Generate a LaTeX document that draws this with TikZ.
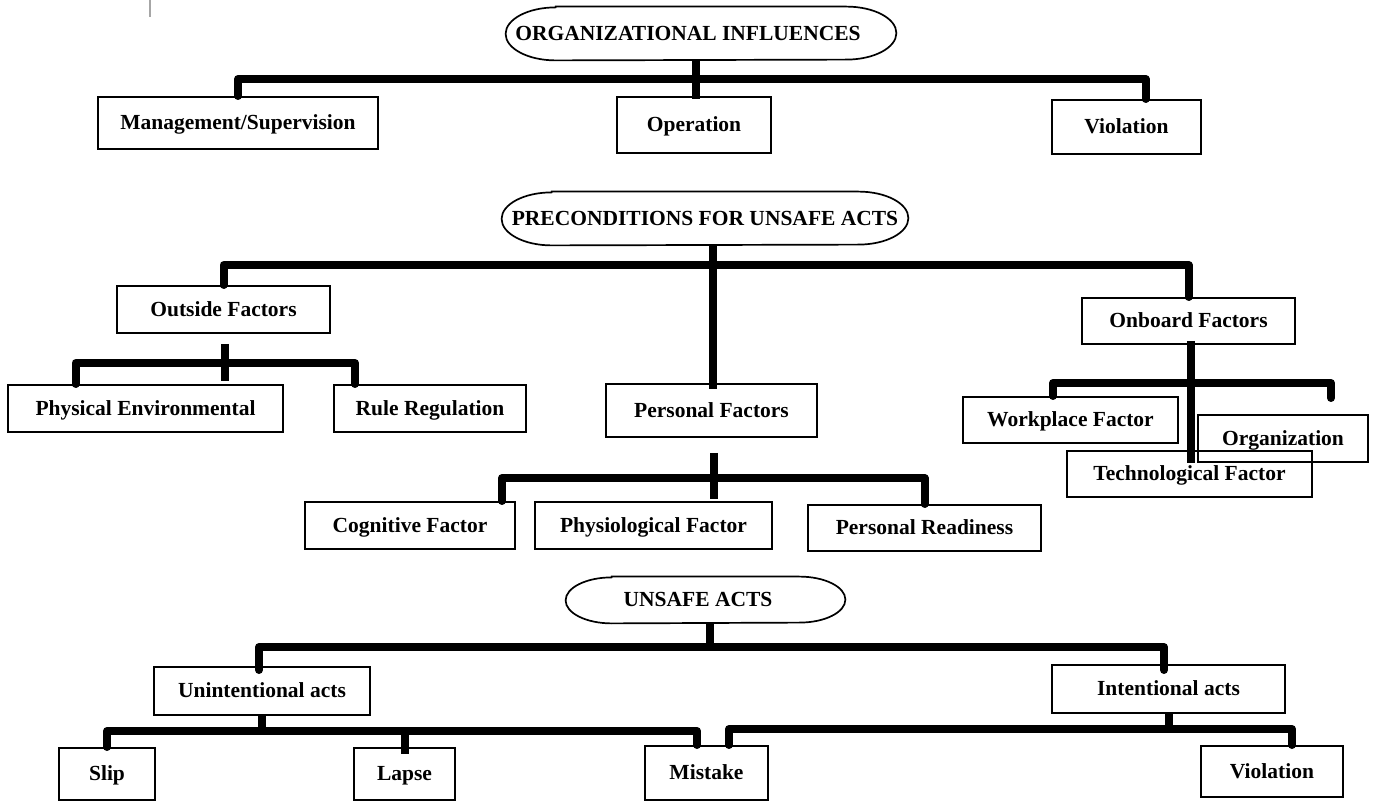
\documentclass[tikz,border=0pt]{standalone}
\usepackage{fontspec}
\setmainfont{Liberation Serif}
\usetikzlibrary{calc}
\newcommand\lbl{\fontsize{10.75}{13}\selectfont\bfseries}
% capsule outline around a heading node: #1 node, #2 end radius (horizontal), #3 half height
\newcommand\capsuleshape[3]{%
  \draw[capsule line] ([xshift=#2]#1.north west) -- ([xshift=-#2]#1.north east)
    arc[start angle=90, end angle=-90, x radius=#2, y radius=#3]
    -- ([xshift=#2]#1.south west)
    arc[start angle=270, end angle=90, x radius=#2, y radius=#3] -- cycle;}
\begin{document}
\begin{tikzpicture}[x=0.5pt,y=-0.5pt,
  box/.style={draw, line width=1pt, inner sep=0pt, font=\lbl, text height=0.66em, text depth=0pt},
  head/.style={inner sep=0pt, font=\lbl, text height=0.66em, text depth=0pt},
  capsule line/.style={line width=0.85pt},
  bus/.style={line width=4pt, line join=round, line cap=round},
  stem/.style={line width=4pt, line cap=butt},
]
\fill[white] (0,0) rectangle (1378,802);
\useasboundingbox (0,0) rectangle (1378,802);
\draw[gray!70, line width=0.6pt] (150,0) -- (150,17);

% ---------- organizational influences ----------
\node[head, minimum width=195pt, minimum height=26.5pt] (h1) at (701,33.5) {\hspace*{-13pt}ORGANIZATIONAL INFLUENCES};
\capsuleshape{h1}{25pt}{13.25pt}
\node[box, minimum width=140pt, minimum height=26pt] (mgmt) at (238,123) {Management/Supervision};
\node[box, minimum width=77pt, minimum height=28pt] (oper) at (694,125) {Operation};
\node[box, minimum width=74.5pt, minimum height=27pt] (viol1) at (1126.5,127) {Violation};

% ---------- preconditions for unsafe acts ----------
\node[head, minimum width=203pt, minimum height=26.5pt] (h2) at (705,218.5) {PRECONDITIONS FOR UNSAFE ACTS};
\capsuleshape{h2}{25pt}{13.25pt}
\node[box, minimum width=106.5pt, minimum height=23.5pt] (outside) at (223.5,309.5) {Outside Factors};
\node[box, minimum width=137.5pt, minimum height=23.5pt] (phys) at (145.5,408.5) {Physical Environmental};
\node[box, minimum width=96pt, minimum height=23.5pt] (rule) at (430,408.5) {Rule Regulation};
\node[box, minimum width=105.5pt, minimum height=26.5pt] (personal) at (711.5,410.5) {Personal Factors};
\node[box, minimum width=105pt, minimum height=23.5pt] (cog) at (410,525.5) {Cognitive Factor};
\node[box, minimum width=118.5pt, minimum height=23.5pt] (physio) at (653.5,525.5) {Physiological Factor};
\node[box, minimum width=116.5pt, minimum height=23pt] (ready) at (924.5,528) {Personal Readiness};
\node[box, minimum width=106.5pt, minimum height=23pt] (onboard) at (1188.5,321) {Onboard Factors};
\node[box, minimum width=107.5pt, minimum height=23pt] (work) at (1070.5,420) {Workplace Factor};
\node[box, minimum width=85pt, minimum height=23.5pt] (org) at (1283,438.5) {Organization};
\node[box, minimum width=122.5pt, minimum height=23pt] (tech) at (1189.5,474) {Technological Factor};

% ---------- unsafe acts ----------
\node[head, minimum width=139.5pt, minimum height=23pt] (h3) at (705.5,600) {\hspace*{-7.5pt}UNSAFE ACTS};
\capsuleshape{h3}{23pt}{11.5pt}
\node[box, minimum width=108pt, minimum height=24pt] (unint) at (262,691) {Unintentional acts};
\node[box, minimum width=116.5pt, minimum height=24pt] (inten) at (1168.5,689) {Intentional acts};
\node[box, minimum width=48pt, minimum height=26pt] (slip) at (107,774) {Slip};
\node[box, minimum width=50.5pt, minimum height=26pt] (lapse) at (404.5,774) {Lapse};
\node[box, minimum width=61.5pt, minimum height=27pt] (mistake) at (706.5,773) {Mistake};
\node[box, minimum width=71pt, minimum height=25.5pt] (viol2) at (1272,771.5) {Violation};

% ---------- connectors ----------
\coordinate (j1) at (696,79);
\draw[stem] (h1.south -| j1) -- ($(oper.north -| j1)+(0,3)$);
\draw[bus] (mgmt.north) |- (j1) -| ($(viol1.north)+(19,0)$);

\coordinate (j2) at (713,265);
\draw[stem] (h2.south -| j2) -- ($(personal.north -| j2)+(0,6)$);
\draw[bus] (outside.north) |- (j2) -| (onboard.north);

\coordinate (j3) at (225,363);
\draw[stem] ($(outside.south -| j3)+(0,10)$) -- ($(phys.north -| j3)+(0,-3)$);
\draw[bus] ($(phys.north)+(-70,0)$) |- (j3) -| ($(rule.north)+(-75,0)$);

\coordinate (j4) at (714,478);
\draw[stem] ($(personal.south -| j4)+(0,15)$) -- ($(physio.north -| j4)+(0,-2)$);
\draw[bus] ($(cog.north)+(92,0)$) |- (j4) -| (ready.north);

\coordinate (j5) at (1191,383);
\draw[stem] ($(onboard.south -| j5)+(0,-4)$) -- (org.south -| j5);
\draw[bus] ($(work.north)+(-17.5,0)$) |- (j5) -| ($(org.north)+(48,-16)$);

\coordinate (j6) at (710,647);
\draw[stem] (h3.south -| j6) -- (j6);
\draw[bus] ($(unint.north)+(-3,4)$) |- (j6) -| ($(inten.north)+(-4.5,6)$);

\coordinate (j7) at (262,731);
\draw[stem] (unint.south -| j7) -- ($(j7)+(0,4)$);
\draw[bus] (slip.north) |- (j7) -| ($(mistake.north)+(-9.5,0)$);
\draw[stem] (lapse.north |- j7) -- ($(lapse.north)+(0,7)$);

\coordinate (j8) at (1169,729);
\draw[stem] (inten.south -| j8) -- ($(j8)+(0,4)$);
\draw[bus] ($(mistake.north)+(22.5,0)$) |- (j8) -| ($(viol2.north)+(20,0)$);
\end{tikzpicture}
\end{document}
